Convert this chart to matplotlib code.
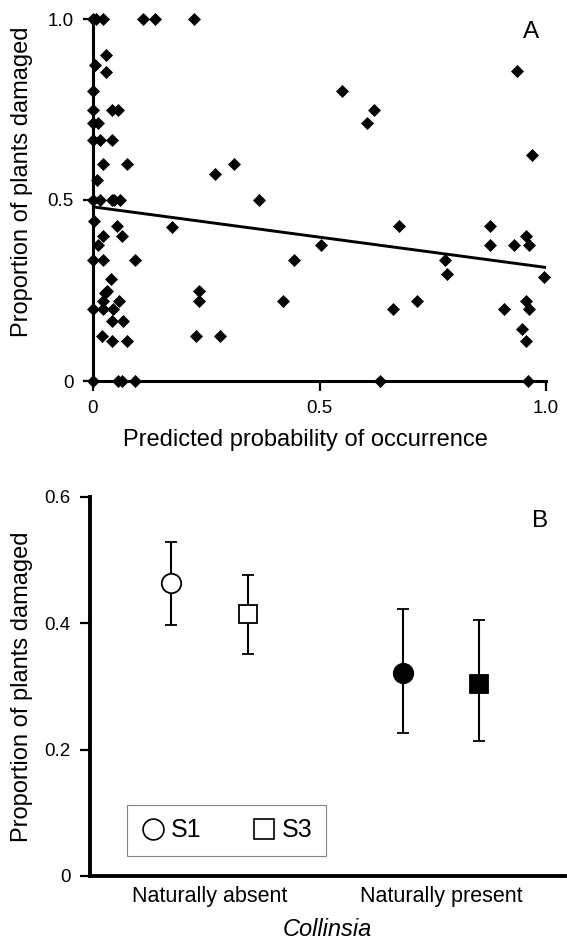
import matplotlib
matplotlib.use("Agg")
import matplotlib.pyplot as plt
from matplotlib.lines import Line2D

plt.rcParams['font.family'] = ['Liberation Sans', 'DejaVu Sans']

# ---------------- Panel A data ----------------
prob_x = [0.0, 0.007, 0.022, 0.111, 0.137, 0.224,
          0.029, 0.004, 0.028,
          0.0,
          0.0, 0.043, 0.056,
          0.0, 0.011,
          0.0, 0.015, 0.043,
          0.023, 0.074,
          0.008,
          0.0, 0.015, 0.041, 0.047, 0.060,
          0.002, 0.054, 0.021, 0.063, 0.010,
          0.0, 0.021, 0.093,
          0.039,
          0.030, 0.027,
          0.0, 0.023, 0.023, 0.045, 0.058,
          0.041, 0.066,
          0.019, 0.041, 0.074,
          0.0, 0.056, 0.063, 0.093,
          0.174, 0.235, 0.235, 0.227, 0.280, 0.270, 0.311, 0.366, 0.420,
          0.443, 0.503, 0.550, 0.604, 0.620, 0.634, 0.663, 0.676, 0.715,
          0.777, 0.781, 0.876, 0.876, 0.908, 0.930, 0.935, 0.946, 0.955,
          0.955, 0.955, 0.961, 0.963, 0.963, 0.970, 0.996]
damage_y = [1.0, 1.0, 1.0, 1.0, 1.0, 1.0,
            0.9, 0.873, 0.854,
            0.8,
            0.75, 0.75, 0.75,
            0.714, 0.714,
            0.667, 0.667, 0.667,
            0.6, 0.6,
            0.556,
            0.5, 0.5, 0.5, 0.5, 0.5,
            0.442, 0.429, 0.4, 0.4, 0.375,
            0.333, 0.333, 0.333,
            0.282,
            0.25, 0.243,
            0.2, 0.221, 0.2, 0.2, 0.221,
            0.167, 0.167,
            0.125, 0.111, 0.111,
            0.0, 0.0, 0.0, 0.0,
            0.426, 0.25, 0.222, 0.125, 0.125, 0.571, 0.6, 0.5, 0.222,
            0.333, 0.375, 0.8, 0.714, 0.75, 0.0, 0.2, 0.429, 0.222,
            0.333, 0.296, 0.429, 0.375, 0.2, 0.375, 0.857, 0.143, 0.4,
            0.222, 0.111, 0.0, 0.375, 0.2, 0.625, 0.286]
fit_x = [0.0, 0.998]
fit_y = [0.481, 0.314]

# ---------------- Panel B data ----------------
groups = ['Naturally absent', 'Naturally present']
s1_mean = [0.464, 0.322]
s1_low = [0.397, 0.227]
s1_high = [0.529, 0.423]
s3_mean = [0.415, 0.304]
s3_low = [0.351, 0.213]
s3_high = [0.476, 0.405]

W, H = 567, 941
fig = plt.figure(figsize=(W / 100, H / 100), dpi=100)

# ---------------- Panel A ----------------
axA = fig.add_axes([93 / W, 1 - 381 / H, (546 - 93) / W, (381 - 19) / H])
axA.plot(fit_x, fit_y, color='black', lw=2.1, zorder=2)
axA.plot(prob_x, damage_y, ls='none', marker='D', ms=6, color='black',
         mec='black', mew=0.5, clip_on=False, zorder=3)
axA.set_xlim(0, 1)
axA.set_ylim(0, 1)
axA.set_xticks([0, 0.5, 1.0])
axA.set_xticklabels(['0', '0.5', '1.0'])
axA.set_yticks([0, 0.5, 1.0])
axA.set_yticklabels(['0', '0.5', '1.0'])
for s in ['top', 'right']:
    axA.spines[s].set_visible(False)
for s in ['left', 'bottom']:
    axA.spines[s].set_linewidth(2.2)
axA.tick_params(direction='out', length=7, width=1.6, labelsize=13.5, pad=7)
axA.set_xlabel('Predicted probability of occurrence', fontsize=17)
axA.xaxis.set_label_coords(0.47, -0.133)
axA.set_ylabel('Proportion of plants damaged', fontsize=17)
axA.yaxis.set_label_coords(-0.132, 0.55)
axA.text(0.985, 0.965, 'A', transform=axA.transAxes, fontsize=17.5,
         ha='right', va='center')

# ---------------- Panel B ----------------
axB = fig.add_axes([90 / W, 1 - 876 / H, (565 - 90) / W, (876 - 497) / H])
off = 0.165
pos = [0, 1]
fills = ['white', 'black']
for i in range(2):
    axB.errorbar(pos[i] - off, s1_mean[i],
                 yerr=[[s1_mean[i] - s1_low[i]], [s1_high[i] - s1_mean[i]]],
                 fmt='o', ms=14, mfc=fills[i], mec='black', mew=1.3,
                 ecolor='black', elinewidth=1.5, capsize=4, capthick=1.5,
                 zorder=3)
    axB.errorbar(pos[i] + off, s3_mean[i],
                 yerr=[[s3_mean[i] - s3_low[i]], [s3_high[i] - s3_mean[i]]],
                 fmt='s', ms=13, mfc=fills[i], mec='black', mew=1.3,
                 ecolor='black', elinewidth=1.5, capsize=4, capthick=1.5,
                 zorder=3)
axB.set_xlim(-0.515, 1.534)
axB.set_ylim(0, 0.6)
axB.set_yticks([0, 0.2, 0.4, 0.6])
axB.set_yticklabels(['0', '0.2', '0.4', '0.6'])
axB.set_xticks(pos)
axB.set_xticklabels(groups, fontsize=15.5)
for s in ['top', 'right']:
    axB.spines[s].set_visible(False)
for s in ['left', 'bottom']:
    axB.spines[s].set_linewidth(2.8)
axB.tick_params(axis='y', direction='out', length=7, width=1.6,
                labelsize=13.5, pad=7)
axB.tick_params(axis='x', length=0, pad=7)
axB.set_xlabel('Collinsia', fontsize=17, fontstyle='italic')
axB.xaxis.set_label_coords(0.5, -0.11)
axB.set_ylabel('Proportion of plants damaged', fontsize=17)
axB.yaxis.set_label_coords(-0.12, 0.5)
axB.text(0.965, 0.937, 'B', transform=axB.transAxes, fontsize=17.5,
         ha='right', va='center')

handles = [Line2D([], [], ls='none', marker='o', ms=15, mfc='white',
                  mec='black', mew=1.2),
           Line2D([], [], ls='none', marker='s', ms=14, mfc='white',
                  mec='black', mew=1.2)]
leg = axB.legend(handles, ['S1', 'S3'], loc='lower left',
                 bbox_to_anchor=((127 - 90) / 475, (876 - 856) / 379),
                 ncol=2, fontsize=18, frameon=True, fancybox=False,
                 handlelength=1.0, handletextpad=0.2, columnspacing=2.0,
                 borderpad=0.55, borderaxespad=0)
leg.get_frame().set_edgecolor('#666666')
leg.get_frame().set_linewidth(0.8)

fig.savefig('out.png', dpi=100)
